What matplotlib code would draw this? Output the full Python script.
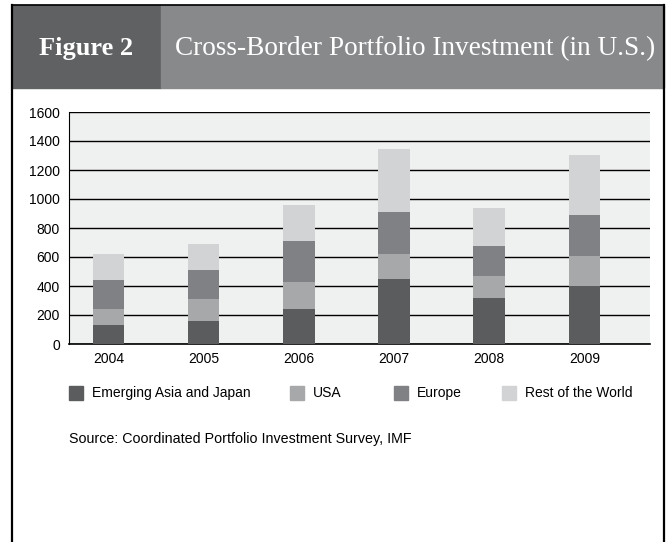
import matplotlib.pyplot as plt
import numpy as np
from matplotlib.patches import Rectangle
from matplotlib.lines import Line2D

years = ["2004", "2005", "2006", "2007", "2008", "2009"]
asia_japan = [131, 159, 241, 448, 317, 400]
usa = [110, 151, 187, 172, 152, 207]
europe = [200, 200, 282, 290, 207, 283]
rest_world = [179, 180, 249, 435, 262, 413]
series_names = ["Emerging Asia and Japan", "USA", "Europe", "Rest of the World"]
colors = ["#5b5c5e", "#a7a8aa", "#808184", "#d2d3d5"]
yticks = [0, 200, 400, 600, 800, 1000, 1200, 1400, 1600]

plt.rcParams['font.family'] = ['Liberation Sans', 'DejaVu Sans']

fig = plt.figure(figsize=(6.71, 5.42), dpi=100)
W, H = 671, 542

# header band
fig.patches.append(Rectangle((12 / W, 1 - 88 / H), (161 - 12) / W, 83 / H,
                             transform=fig.transFigure, color="#606163", zorder=0))
fig.patches.append(Rectangle((161 / W, 1 - 88 / H), (664 - 161) / W, 83 / H,
                             transform=fig.transFigure, color="#88898b", zorder=0))
fig.text(39 / W, 1 - 49 / H, "Figure 2", color="white", fontsize=19, fontweight="bold",
         family="Liberation Serif", ha="left", va="center")
fig.text(175 / W, 1 - 49 / H, "Cross-Border Portfolio Investment (in U.S.)", color="white",
         fontsize=19.6, family="Liberation Serif", ha="left", va="center")

# outer frame
fig.lines.append(Line2D([12 / W, 12 / W], [0, 1 - 5 / H], transform=fig.transFigure, color="black", lw=1.6))
fig.lines.append(Line2D([664 / W, 664 / W], [0, 1 - 5 / H], transform=fig.transFigure, color="black", lw=1.6))
fig.lines.append(Line2D([12 / W, 664 / W], [1 - 5 / H, 1 - 5 / H], transform=fig.transFigure, color="black", lw=1.2))

ax = fig.add_axes([69 / W, 1 - 344 / H, (650 - 69) / W, (344 - 112) / H])
ax.set_facecolor("#eff0f0")

x = np.arange(len(years))
bottom = np.zeros(len(years))
for vals, c, name in zip([asia_japan, usa, europe, rest_world], colors, series_names):
    ax.bar(x, vals, width=0.33, bottom=bottom, color=c, zorder=3, label=name)
    bottom += np.array(vals)

ax.set_ylim(0, 1600)
ax.set_xlim(-0.415, 5.69)
ax.set_yticks(yticks)
ax.set_xticks(x)
ax.set_xticklabels(years)
ax.tick_params(length=0, labelsize=10)
ax.tick_params(axis="x", pad=6)
ax.tick_params(axis="y", pad=6.5)
ax.yaxis.grid(True, color="black", lw=1.0, zorder=1)
ax.set_axisbelow(True)
for s in ["top", "right"]:
    ax.spines[s].set_visible(False)
ax.spines["left"].set_linewidth(0.8)
ax.spines["bottom"].set_linewidth(1.2)

# legend entries
leg_x = [69, 290, 394, 502]
for hx, name, c in zip(leg_x, series_names, colors):
    fig.patches.append(Rectangle((hx / W, 1 - 400 / H), 14 / W, 14 / H,
                                 transform=fig.transFigure, color=c))
    fig.text((hx + 23) / W, 1 - 393 / H, name, fontsize=10, va="center", ha="left")

fig.text(69 / W, 1 - 439 / H, "Source: Coordinated Portfolio Investment Survey, IMF",
         fontsize=10.3, va="center", ha="left")

fig.savefig("out.png", dpi=100)
